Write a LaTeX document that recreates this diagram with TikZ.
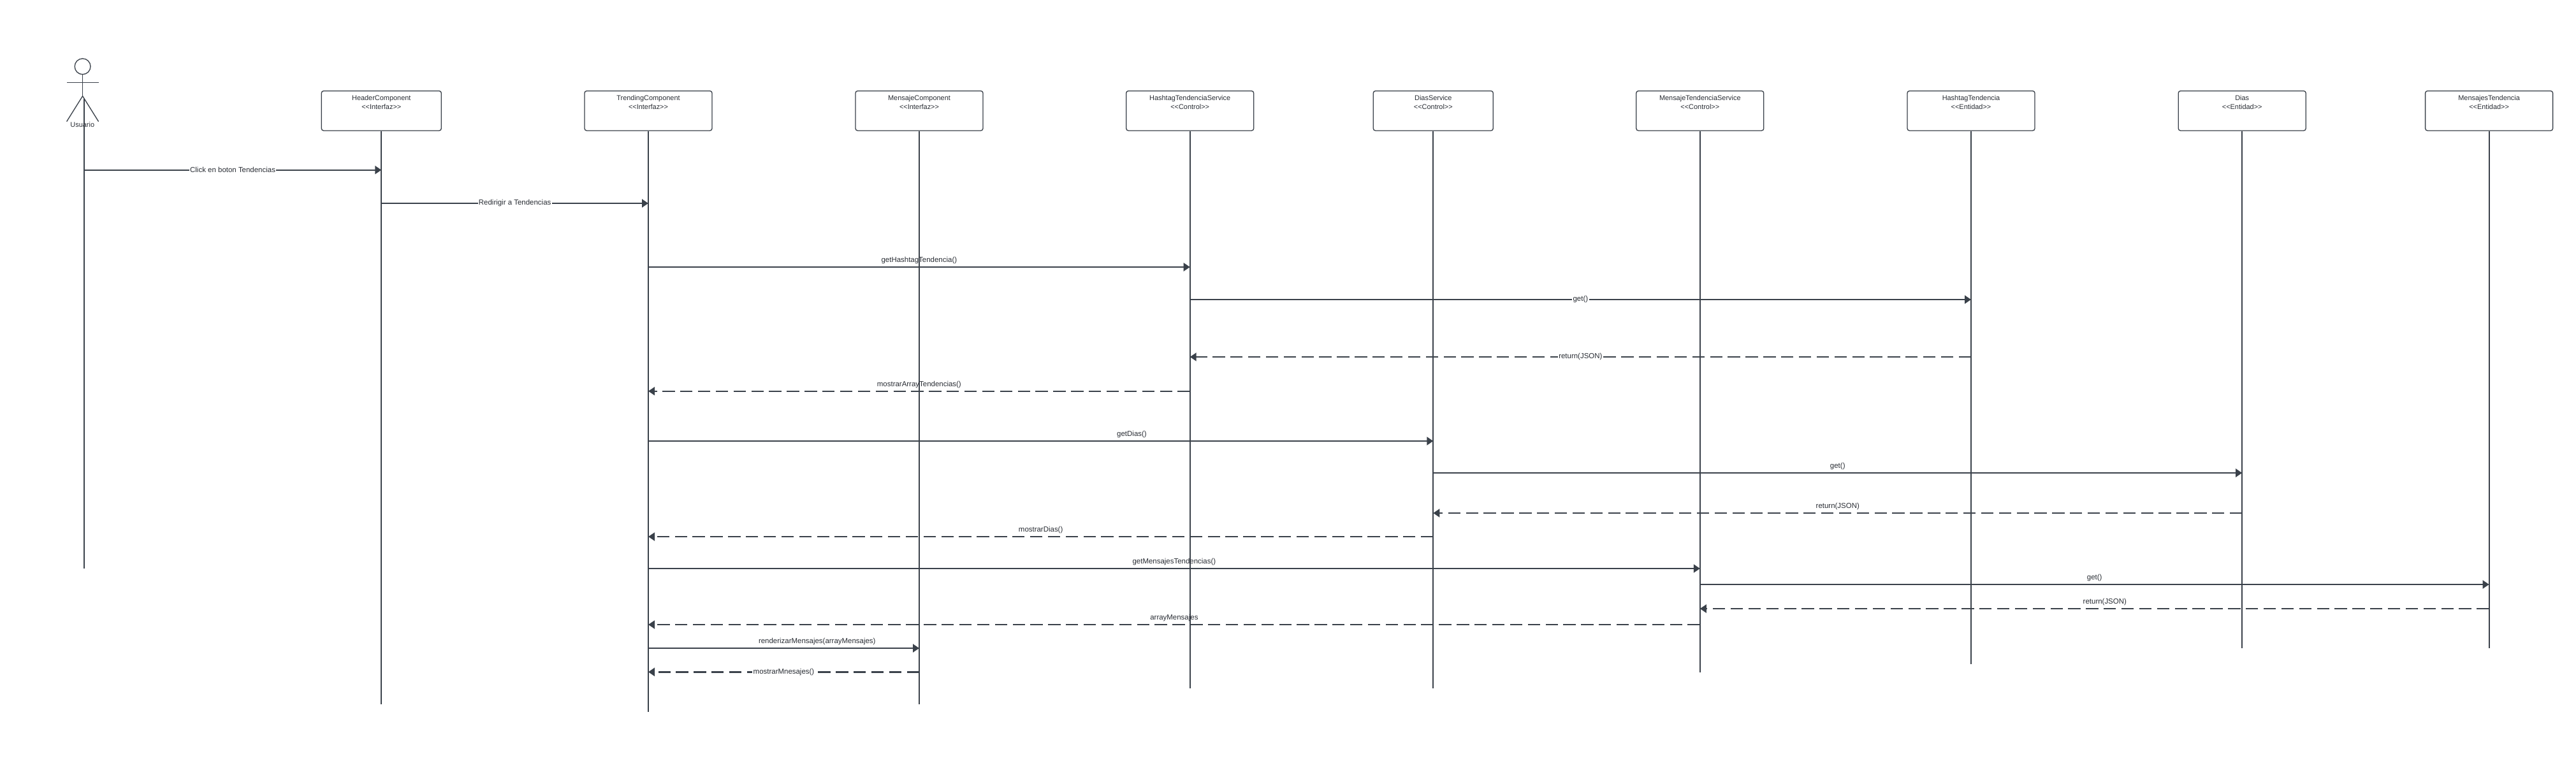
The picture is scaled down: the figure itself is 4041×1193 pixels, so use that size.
\documentclass[tikz,border=0pt]{standalone}
\usepackage{fontspec}
\setmainfont{Liberation Sans}
\usetikzlibrary{arrows.meta}
\definecolor{lineGray}{HTML}{3A414A}
\definecolor{textGray}{HTML}{282C33}

\begin{document}
\begin{tikzpicture}[x=0.75pt,y=0.75pt,yscale=-1,
	objbox/.style={draw=lineGray,line width=1pt,rounded corners=2.5pt,anchor=north,inner sep=0pt,align=center,font=\fontsize{8.2}{10}\selectfont,text=textGray,minimum width=150pt,minimum height=46.7pt},
	lifeline/.style={draw=lineGray,line width=1.45pt},
	actorline/.style={draw=lineGray,line width=1pt},
	callmsg/.style={draw=lineGray,line width=1.5pt,-{Triangle[length=7.5pt,width=9.75pt]}},
	retmsg/.style={callmsg,dash pattern={on 14.5pt off 6.4pt}},
	retthick/.style={retmsg,line width=2.5pt,-{Triangle[length=7.5pt,width=9.75pt]}},
	onlabel/.style={fill=white,inner sep=1pt,font=\fontsize{8.6}{10}\selectfont,text=textGray},
	toplabel/.style={inner sep=0pt,yshift=7.7pt,font=\fontsize{8.6}{10}\selectfont,text=textGray}
	]
	\useasboundingbox (0,0) rectangle (4041,1193);
	
	%Boxes
	\node [objbox,minimum width=141pt] (headerBox) at (598.3,142) {HeaderComponent\\<{}<Interfaz>{}>\\~\\~};
	\node [objbox] (trendingBox) at (1017,142) {TrendingComponent\\<{}<Interfaz>{}>\\~\\~};
	\node [objbox] (mensajeBox) at (1442,142) {MensajeComponent\\<{}<Interfaz>{}>\\~\\~};
	\node [objbox] (hashtagSrvBox) at (1866.7,142) {HashtagTendenciaService\\<{}<Control>{}>\\~\\~};
	\node [objbox,minimum width=141pt] (diasSrvBox) at (2248.3,142) {DiasService\\<{}<Control>{}>\\~\\~};
	\node [objbox] (mensajeSrvBox) at (2666.8,142) {MensajeTendenciaService\\<{}<Control>{}>\\~\\~};
	\node [objbox] (hashtagBox) at (3092,142) {HashtagTendencia\\<{}<Entidad>{}>\\~\\~};
	\node [objbox] (diasBox) at (3517.2,142) {Dias\\<{}<Entidad>{}>\\~\\~};
	\node [objbox] (mensajesBox) at (3904.6,142) {MensajesTendencia\\<{}<Entidad>{}>\\~\\~};
	
	%Actor
	\node [draw=lineGray,line width=1pt,circle,inner sep=0pt,minimum size=18.6pt] (usuarioHead) at (129.6,104.3) {};
	\coordinate (usuarioHip) at (129.6,150.7);
	\coordinate (usuarioArmL) at (105,129.3);
	\coordinate (usuarioArmR) at (154.6,129.3);
	\coordinate (usuarioFootL) at (104.6,190.7);
	\coordinate (usuarioFootR) at (154.6,190.7);
	\draw [actorline] (usuarioHead.south) -- (usuarioHip);
	\draw [actorline] (usuarioArmL) -- (usuarioArmR);
	\draw [actorline] (usuarioFootL) -- (usuarioHip) -- (usuarioFootR);
	
	%Lifeline ends
	\coordinate (usuarioTop) at (131.9,155);
	\coordinate (usuarioEnd) at (131.9,892);
	\coordinate (headerEnd) at (598.3,1105);
	\coordinate (trendingEnd) at (1017,1116.7);
	\coordinate (mensajeEnd) at (1442,1105);
	\coordinate (hashtagSrvEnd) at (1866.7,1080);
	\coordinate (diasSrvEnd) at (2248.3,1080);
	\coordinate (mensajeSrvEnd) at (2666.8,1055);
	\coordinate (hashtagEnd) at (3092,1041.7);
	\coordinate (diasEnd) at (3517.2,1016.7);
	\coordinate (mensajesEnd) at (3904.6,1016.7);
	
	%Lifelines
	\draw [lifeline] (usuarioTop) -- (usuarioEnd);
	\draw [lifeline] (headerBox.south) -- (headerEnd);
	\draw [lifeline] (trendingBox.south) -- (trendingEnd);
	\draw [lifeline] (mensajeBox.south) -- (mensajeEnd);
	\draw [lifeline] (hashtagSrvBox.south) -- (hashtagSrvEnd);
	\draw [lifeline] (diasSrvBox.south) -- (diasSrvEnd);
	\draw [lifeline] (mensajeSrvBox.south) -- (mensajeSrvEnd);
	\draw [lifeline] (hashtagBox.south) -- (hashtagEnd);
	\draw [lifeline] (diasBox.south) -- (diasEnd);
	\draw [lifeline] (mensajesBox.south) -- (mensajesEnd);
	
	%Message rows
	\coordinate (rowClick) at (0,266.7);
	\coordinate (rowRedirigir) at (0,319);
	\coordinate (rowGetHashtag) at (0,419);
	\coordinate (rowGetA) at (0,470);
	\coordinate (rowReturnA) at (0,560);
	\coordinate (rowMostrarArray) at (0,613.7);
	\coordinate (rowGetDias) at (0,692);
	\coordinate (rowGetB) at (0,742);
	\coordinate (rowReturnB) at (0,805);
	\coordinate (rowMostrarDias) at (0,842);
	\coordinate (rowGetMensajes) at (0,892);
	\coordinate (rowGetC) at (0,917);
	\coordinate (rowReturnC) at (0,955);
	\coordinate (rowArrayMensajes) at (0,980);
	\coordinate (rowRenderizar) at (0,1017);
	\coordinate (rowMostrarMsg) at (0,1054.3);
	
	%Straight Lines
	\draw [callmsg] (usuarioTop |- rowClick) -- (headerBox |- rowClick) node [midway,onlabel] (lblClick) {Click en boton Tendencias};
	\draw [callmsg] (headerBox |- rowRedirigir) -- (trendingBox |- rowRedirigir) node [midway,onlabel] (lblRedirigir) {Redirigir a Tendencias};
	\draw [callmsg] (trendingBox |- rowGetHashtag) -- (hashtagSrvBox |- rowGetHashtag) node [midway,toplabel] (lblGetHashtag) {getHashtagTendencia()};
	\draw [callmsg] (hashtagSrvBox |- rowGetA) -- (hashtagBox |- rowGetA) node [midway,onlabel] (lblGetA) {get()};
	\draw [retmsg] (hashtagBox |- rowReturnA) -- (hashtagSrvBox |- rowReturnA) node [midway,onlabel] (lblReturnA) {return(JSON)};
	\draw [retmsg] (hashtagSrvBox |- rowMostrarArray) -- (trendingBox |- rowMostrarArray) node [midway,toplabel] (lblMostrarArray) {mostrarArrayTendencias()};
	\draw [callmsg] (trendingBox |- rowGetDias) -- (diasSrvBox |- rowGetDias) node [pos=0.616,toplabel] (lblGetDias) {getDias()};
	\draw [callmsg] (diasSrvBox |- rowGetB) -- (diasBox |- rowGetB) node [midway,toplabel] (lblGetB) {get()};
	\draw [retmsg] (diasBox |- rowReturnB) -- (diasSrvBox |- rowReturnB) node [midway,toplabel] (lblReturnB) {return(JSON)};
	\draw [retmsg] (diasSrvBox |- rowMostrarDias) -- (trendingBox |- rowMostrarDias) node [midway,toplabel] (lblMostrarDias) {mostrarDias()};
	\draw [callmsg] (trendingBox |- rowGetMensajes) -- (mensajeSrvBox |- rowGetMensajes) node [midway,toplabel] (lblGetMensajes) {getMensajesTendencias()};
	\draw [callmsg] (mensajeSrvBox |- rowGetC) -- (mensajesBox |- rowGetC) node [midway,toplabel] (lblGetC) {get()};
	\draw [retmsg] (mensajesBox |- rowReturnC) -- (mensajeSrvBox |- rowReturnC) node [pos=0.487,toplabel] (lblReturnC) {return(JSON)};
	\draw [retmsg] (mensajeSrvBox |- rowArrayMensajes) -- (trendingBox |- rowArrayMensajes) node [midway,toplabel] (lblArrayMensajes) {arrayMensajes};
	\draw [callmsg] (trendingBox |- rowRenderizar) -- (mensajeBox |- rowRenderizar) node [pos=0.623,toplabel] (lblRenderizar) {renderizarMensajes(arrayMensajes)};
	\draw [retthick] (mensajeBox |- rowMostrarMsg) -- (trendingBox |- rowMostrarMsg) node [midway,onlabel] (lblMostrarMsg) {mostrarMnesajes()};
	
	% Text Node
	\node [inner sep=0pt,font=\fontsize{8.2}{10}\selectfont,text=textGray] (usuarioLabel) at (129.3,196) {Usuario};
	
\end{tikzpicture}
\end{document}
